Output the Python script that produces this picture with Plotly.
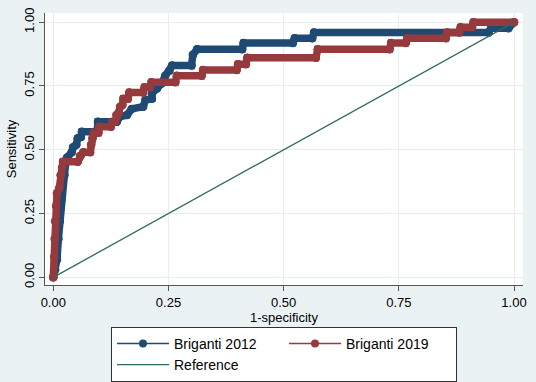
import plotly.graph_objects as go

# 1-specificity (FPR) and sensitivity vertices
fpr_2012 = [0, 0.004, 0.008, 0.011, 0.014, 0.017, 0.019, 0.024, 0.027, 0.030, 0.040, 0.043,
            0.050, 0.053, 0.060, 0.062, 0.095, 0.097, 0.138, 0.145, 0.160, 0.170, 0.195,
            0.200, 0.214, 0.214, 0.225, 0.235, 0.243, 0.252, 0.258, 0.300, 0.303, 0.312,
            0.410, 0.413, 0.520, 0.524, 0.562, 0.566, 0.945, 0.950, 0.988, 1.0]
sens_2012 = [0, 0.03, 0.07, 0.15, 0.22, 0.30, 0.36, 0.40, 0.45, 0.47, 0.49, 0.51,
             0.52, 0.545, 0.55, 0.571, 0.571, 0.61, 0.61, 0.63, 0.636, 0.66, 0.669,
             0.695, 0.70, 0.72, 0.74, 0.76, 0.79, 0.81, 0.83, 0.83, 0.872, 0.894,
             0.894, 0.918, 0.918, 0.937, 0.937, 0.96, 0.96, 0.976, 0.976, 1.0]

fpr_2019 = [0, 0.002, 0.003, 0.004, 0.006, 0.008, 0.013, 0.016, 0.019, 0.021, 0.053, 0.058,
            0.065, 0.080, 0.082, 0.085, 0.088, 0.098, 0.100, 0.125, 0.128, 0.134, 0.137,
            0.142, 0.145, 0.150, 0.152, 0.162, 0.165, 0.195, 0.198, 0.210, 0.213, 0.265,
            0.268, 0.322, 0.325, 0.398, 0.401, 0.418, 0.421, 0.570, 0.574, 0.730, 0.733,
            0.765, 0.768, 0.852, 0.855, 0.881, 0.884, 0.909, 0.912, 1.0]
sens_2019 = [0, 0.08, 0.15, 0.22, 0.28, 0.33, 0.35, 0.40, 0.43, 0.453, 0.453, 0.476,
             0.49, 0.49, 0.52, 0.545, 0.567, 0.567, 0.59, 0.59, 0.61, 0.61, 0.636,
             0.645, 0.669, 0.675, 0.70, 0.70, 0.724, 0.724, 0.745, 0.745, 0.765, 0.765,
             0.79, 0.79, 0.813, 0.813, 0.835, 0.835, 0.861, 0.861, 0.894, 0.894, 0.918,
             0.918, 0.937, 0.937, 0.96, 0.96, 0.98, 0.98, 1.0, 1.0]

ref_x = [0, 1]
ref_y = [0, 1]

tick_vals = [0, 0.25, 0.5, 0.75, 1.0]
tick_text = ["0.00", "0.25", "0.50", "0.75", "1.00"]

NAVY = "#1f4a73"
MAROON = "#963a3d"
GREEN = "#2f6b57"
FONT = "Liberation Sans, Arial, sans-serif"

fig = go.Figure()

for x, y, col, name in [(fpr_2012, sens_2012, NAVY, "Briganti 2012"),
                        (fpr_2019, sens_2019, MAROON, "Briganti 2019")]:
    fig.add_trace(go.Scatter(x=x, y=y, mode="lines+markers",
                             line=dict(color=col, width=7.5),
                             marker=dict(color=col, size=8.5),
                             showlegend=False, hoverinfo="skip"))
    fig.add_trace(go.Scatter(x=x, y=y, mode="lines+markers", name=name,
                             line=dict(color=col, width=1.5),
                             marker=dict(color=col, size=8)))

fig.add_trace(go.Scatter(x=ref_x, y=ref_y, mode="lines", name="Reference",
                         line=dict(color=GREEN, width=1.3)))

axis_common = dict(
    tickvals=tick_vals, ticktext=tick_text,
    showgrid=True, gridcolor="#e6eef0", gridwidth=1,
    zeroline=False, showline=True, linecolor="#555555", linewidth=1,
    ticks="outside", ticklen=5, tickcolor="#555555", tickwidth=1,
    tickfont=dict(size=13, color="black", family=FONT),
    automargin=False,
)

fig.update_layout(
    width=536, height=382,
    margin=dict(l=45, r=13, t=13, b=97, autoexpand=False),
    paper_bgcolor="#eaf2f3", plot_bgcolor="white",
    font=dict(family=FONT, color="black"),
    xaxis=dict(range=[-0.018, 1.0195],
               title=dict(text="1-specificity", font=dict(size=13), standoff=1),
               **axis_common),
    yaxis=dict(range=[-0.030, 1.036], tickangle=-90,
               title=dict(text="Sensitivity", font=dict(size=13), standoff=2),
               **axis_common),
    legend=dict(orientation="h", x=0.5, xanchor="center", y=-0.154, yanchor="top",
                bgcolor="white", bordercolor="#333333", borderwidth=1,
                font=dict(size=14, color="black"),
                itemwidth=52,
                entrywidth=105, entrywidthmode="pixels",
                itemclick=False),
)

fig.write_html("out.html",
               config={"displayModeBar": False},
               post_script="document.body.style.margin='0';document.body.style.overflow='hidden';")
